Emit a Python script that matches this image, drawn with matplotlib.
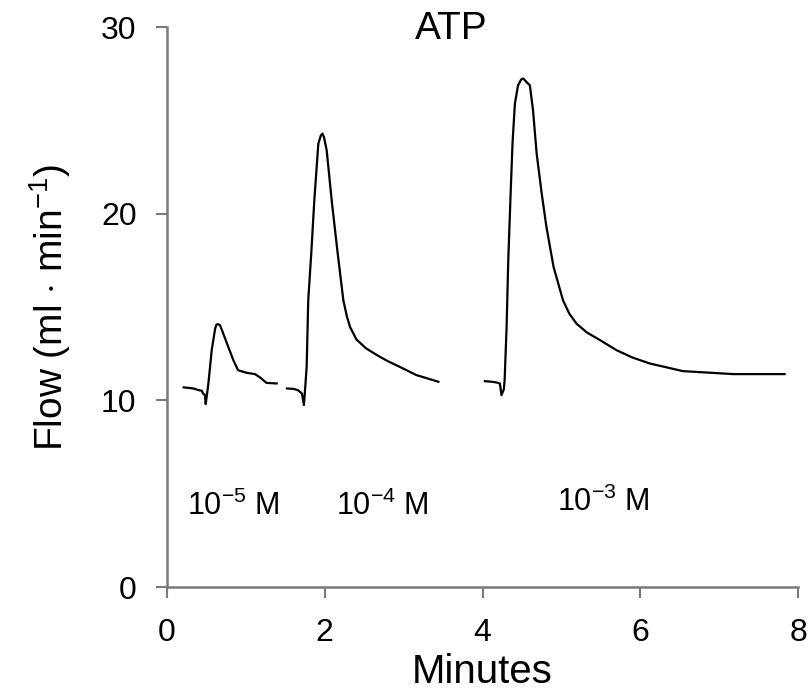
import matplotlib
matplotlib.use("Agg")
import matplotlib.pyplot as plt

# --- data ---
t_e5 = [0.21, 0.335, 0.40, 0.44, 0.46, 0.48, 0.49, 0.524, 0.566, 0.61, 0.625, 0.64, 0.672, 0.76, 0.84, 0.90, 1.01, 1.115, 1.18, 1.26, 1.39]
f_e5 = [10.70, 10.64, 10.55, 10.52, 10.34, 10.3, 9.80, 10.91, 12.69, 13.86, 14.05, 14.09, 14.03, 13.05, 12.16, 11.62, 11.48, 11.41, 11.23, 10.94, 10.91]

t_e4 = [1.52, 1.60, 1.66, 1.71, 1.735, 1.745, 1.77, 1.79, 1.83, 1.867, 1.918, 1.95, 1.97, 1.99, 2.024, 2.087, 2.16, 2.235, 2.28, 2.32, 2.40, 2.52, 2.66, 2.80, 2.95, 3.16, 3.44]
f_e4 = [10.64, 10.62, 10.55, 10.37, 9.75, 10.3, 11.8, 15.37, 18.0, 20.73, 23.76, 24.2, 24.3, 24.1, 23.4, 20.73, 18.0, 15.37, 14.5, 13.94, 13.27, 12.8, 12.43, 12.1, 11.8, 11.36, 11.0]

t_e3 = [4.03, 4.12, 4.18, 4.22, 4.24, 4.27, 4.28, 4.305, 4.326, 4.356, 4.38, 4.41, 4.45, 4.49, 4.516, 4.56, 4.60, 4.64, 4.686, 4.75, 4.81, 4.90, 5.02, 5.10, 5.19, 5.32, 5.49, 5.70, 5.90, 6.12, 6.54, 7.18, 7.83]
f_e3 = [11.03, 11.0, 10.96, 10.9, 10.28, 10.6, 11.09, 13.94, 17.5, 21.09, 23.77, 25.9, 26.89, 27.2, 27.25, 27.05, 26.89, 25.55, 23.23, 21.09, 19.3, 17.16, 15.37, 14.65, 14.12, 13.65, 13.23, 12.69, 12.3, 11.98, 11.57, 11.41, 11.41]

conc_labels = ["10$^{-5}$ M", "10$^{-4}$ M", "10$^{-3}$ M"]
conc_x = [0.25, 2.14, 4.94]
conc_y = [3.85, 3.85, 4.1]

x_ticks = [0, 2, 4, 6, 8]
y_ticks = [0, 10, 20, 30]

plt.rcParams["font.family"] = "Liberation Sans"
plt.rcParams["mathtext.fontset"] = "custom"
plt.rcParams["mathtext.rm"] = "Liberation Sans"
plt.rcParams["mathtext.it"] = "Liberation Sans:italic"

fig = plt.figure(figsize=(8.11, 6.98), dpi=100)
ax = fig.add_axes([0.206, 0.159, 0.778, 0.802])

for t, f in [(t_e5, f_e5), (t_e4, f_e4), (t_e3, f_e3)]:
    ax.plot(t, f, color="black", linewidth=1.6)

for lab, x, y in zip(conc_labels, conc_x, conc_y):
    ax.text(x, y, lab, fontsize=22, ha="left", va="baseline")

ax.text(3.6, 29.9, "ATP", fontsize=28, ha="center", va="center")

ax.set_xlim(0, 8)
ax.set_ylim(0, 30)
ax.set_xticks(x_ticks)
ax.set_yticks(y_ticks)

for side in ["top", "right"]:
    ax.spines[side].set_visible(False)
for side in ["left", "bottom"]:
    ax.spines[side].set_color("#7a7a7a")
    ax.spines[side].set_linewidth(1.8)

ax.tick_params(direction="out", length=8, width=1.5, color="#7a7a7a", labelsize=23, pad=14)

ax.set_xlabel("Minutes", fontsize=29, labelpad=4)
ax.set_ylabel("Flow (ml $\\cdot$ min$^{-1}$)", fontsize=28, labelpad=20)

plt.savefig("out.png", dpi=100)
